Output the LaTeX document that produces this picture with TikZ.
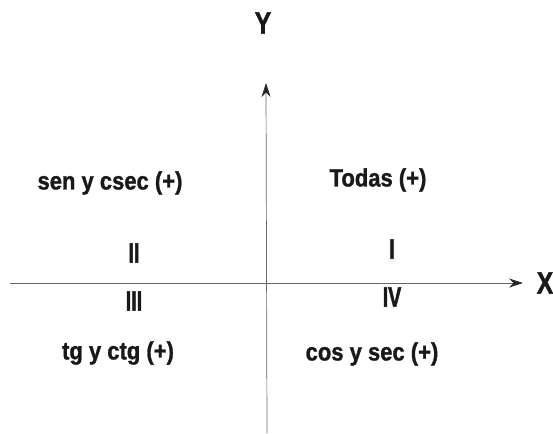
\documentclass[tikz,border=0pt]{standalone}
\usepackage{fontspec}
\setmainfont{Liberation Sans}[FakeStretch=0.88, BoldFeatures={FakeBold=1.2}]
\newfontfamily\numfont{Liberation Sans}[FakeStretch=0.7, BoldFeatures={FakeBold=1.5}]
\newfontfamily\axfont{Liberation Sans}[FakeStretch=0.8, BoldFeatures={FakeBold=1.2}]
\usetikzlibrary{arrows.meta}
\tikzset{
  axis/.style={draw=black!60, line width=0.7pt, -{Stealth[length=14pt,width=9pt,color=black!85,fill=black!85]}},
  quad/.style={font=\fontsize{25}{29}\selectfont\bfseries, inner sep=0pt, text=black!90},
  roman/.style={font=\numfont\fontsize{28}{30}\selectfont\bfseries, inner sep=0pt, text=black!90},
  axlabel/.style={font=\axfont\fontsize{31}{33}\selectfont\bfseries, inner sep=0pt, text=black!90}
}
\begin{document}
\begin{tikzpicture}[x=1pt,y=-1pt]
\useasboundingbox (0,0) rectangle (553,433);
\coordinate (xs) at (10,283);
\coordinate (xe) at (523,283);
\coordinate (ys) at (267,433);
\coordinate (ye) at (266,83);
\draw[axis] (xs) -- (xe);
\draw[axis] (ys) -- (ye);
\node[axlabel] (ylab) at (263,23) {Y};
\node[axlabel] (xlab) at (545,283) {X};
\node[quad] (q2) at (110,183) {sen y csec (+)};
\node[quad] (q1) at (378,180) {Todas (+)};
\node[quad] (q3) at (118,353) {tg y ctg (+)};
\node[quad] (q4) at (372,354) {cos y sec (+)};
\node[roman] (r2) at (134,253) {II};
\node[roman] (r1) at (392,249) {I};
\node[roman] (r3) at (134,301) {III};
\node[roman] (r4) at (392,297) {IV};
\end{tikzpicture}
\end{document}
